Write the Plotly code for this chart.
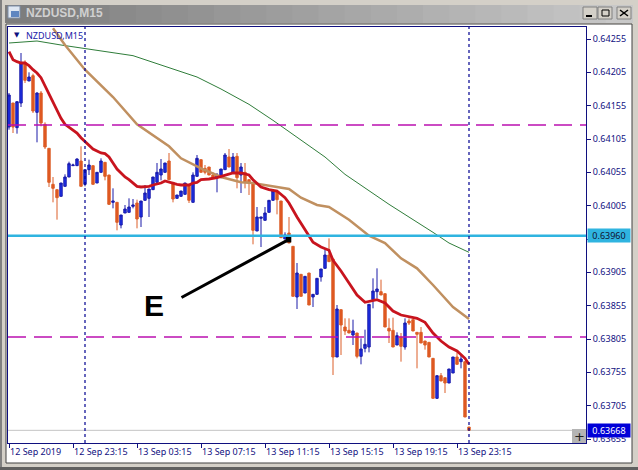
import plotly.graph_objects as go

W, H = 638, 470

# candles
opens = [0.64123, 0.64159, 0.64122, 0.64159, 0.64220, 0.64192, 0.64200, 0.64145, 0.64174, 0.64127,
         0.64091, 0.64037, 0.64029, 0.64019, 0.64034, 0.64048, 0.64065, 0.64065, 0.64072, 0.64037,
         0.64059, 0.64065, 0.64039, 0.64055, 0.64070, 0.64051, 0.64010, 0.64010, 0.63976, 0.63994,
         0.63995, 0.64004, 0.64009, 0.63988, 0.64013, 0.64016, 0.64029, 0.64040, 0.64051, 0.64055,
         0.64072, 0.64040, 0.64016, 0.64019, 0.64022, 0.64036, 0.64010, 0.64049, 0.64074, 0.64061,
         0.64063, 0.64051, 0.64047, 0.64047, 0.64059, 0.64078, 0.64055, 0.64079, 0.64051, 0.64055,
         0.64044, 0.64039, 0.63967, 0.63986, 0.63983, 0.63995, 0.64013, 0.64026, 0.64012, 0.63955,
         0.63964, 0.63944, 0.63868, 0.63902, 0.63874, 0.63904, 0.63868, 0.63872, 0.63898, 0.63911,
         0.63931, 0.63925, 0.63778, 0.63849, 0.63823, 0.63818, 0.63811, 0.63814, 0.63779, 0.63791,
         0.63793, 0.63864, 0.63876, 0.63876, 0.63873, 0.63821, 0.63818, 0.63796, 0.63808, 0.63793,
         0.63832, 0.63834, 0.63815, 0.63815, 0.63802, 0.63800, 0.63776, 0.63716, 0.63750, 0.63747,
         0.63739, 0.63754, 0.63778, 0.63771, 0.63771, 0.63673]
highs = [0.64174, 0.64159, 0.64161, 0.64234, 0.64223, 0.64205, 0.64203, 0.64175, 0.64177, 0.64130,
         0.64091, 0.64048, 0.64029, 0.64039, 0.64052, 0.64071, 0.64068, 0.64076, 0.64094, 0.64059,
         0.64074, 0.64065, 0.64055, 0.64076, 0.64070, 0.64051, 0.64031, 0.64010, 0.63991, 0.64006,
         0.64016, 0.64015, 0.64014, 0.64012, 0.64036, 0.64030, 0.64048, 0.64069, 0.64075, 0.64069,
         0.64084, 0.64040, 0.64021, 0.64027, 0.64039, 0.64036, 0.64055, 0.64081, 0.64074, 0.64066,
         0.64063, 0.64055, 0.64054, 0.64060, 0.64084, 0.64090, 0.64084, 0.64084, 0.64069, 0.64069,
         0.64044, 0.64039, 0.64003, 0.63988, 0.64003, 0.64013, 0.64027, 0.64026, 0.64012, 0.63965,
         0.63988, 0.63944, 0.63919, 0.63902, 0.63899, 0.63904, 0.63872, 0.63896, 0.63910, 0.63939,
         0.63956, 0.63925, 0.63856, 0.63849, 0.63836, 0.63836, 0.63834, 0.63814, 0.63806, 0.63819,
         0.63857, 0.63896, 0.63911, 0.63894, 0.63873, 0.63836, 0.63837, 0.63815, 0.63814, 0.63836,
         0.63836, 0.63834, 0.63815, 0.63823, 0.63802, 0.63800, 0.63776, 0.63750, 0.63754, 0.63747,
         0.63760, 0.63778, 0.63785, 0.63781, 0.63771, 0.63673]
lows = [0.64119, 0.64114, 0.64113, 0.64153, 0.64189, 0.64192, 0.64144, 0.64100, 0.64124, 0.64090,
        0.64033, 0.64010, 0.63984, 0.64019, 0.64034, 0.64048, 0.64065, 0.64065, 0.64034, 0.64034,
        0.64051, 0.64037, 0.64039, 0.64055, 0.64043, 0.64006, 0.64001, 0.63968, 0.63971, 0.63994,
        0.63995, 0.64001, 0.63971, 0.63973, 0.64013, 0.63988, 0.64029, 0.64040, 0.64043, 0.64055,
        0.64044, 0.64010, 0.64016, 0.64019, 0.64022, 0.64009, 0.64010, 0.64049, 0.64055, 0.64052,
        0.64051, 0.64047, 0.64025, 0.64047, 0.64059, 0.64063, 0.64055, 0.64031, 0.64024, 0.64031,
        0.64021, 0.63947, 0.63967, 0.63943, 0.63983, 0.63995, 0.64013, 0.63992, 0.63957, 0.63955,
        0.63949, 0.63869, 0.63850, 0.63869, 0.63874, 0.63856, 0.63853, 0.63872, 0.63891, 0.63911,
        0.63921, 0.63751, 0.63778, 0.63781, 0.63811, 0.63814, 0.63796, 0.63776, 0.63767, 0.63785,
        0.63785, 0.63851, 0.63866, 0.63871, 0.63823, 0.63799, 0.63793, 0.63796, 0.63771, 0.63789,
        0.63826, 0.63817, 0.63761, 0.63799, 0.63789, 0.63778, 0.63716, 0.63715, 0.63742, 0.63724,
        0.63739, 0.63754, 0.63767, 0.63761, 0.63688, 0.63668]
closes = [0.64171, 0.64123, 0.64161, 0.64219, 0.64193, 0.64198, 0.64147, 0.64174, 0.64129, 0.64093,
          0.64040, 0.64031, 0.64017, 0.64039, 0.64048, 0.64068, 0.64066, 0.64075, 0.64034, 0.64059,
          0.64066, 0.64037, 0.64055, 0.64072, 0.64049, 0.64007, 0.64012, 0.63980, 0.63991, 0.64000,
          0.64003, 0.64006, 0.63985, 0.64012, 0.64024, 0.64030, 0.64048, 0.64055, 0.64060, 0.64069,
          0.64044, 0.64015, 0.64021, 0.64027, 0.64039, 0.64013, 0.64051, 0.64076, 0.64055, 0.64055,
          0.64051, 0.64047, 0.64051, 0.64060, 0.64081, 0.64063, 0.64078, 0.64047, 0.64063, 0.64040,
          0.64039, 0.63968, 0.63988, 0.63988, 0.63994, 0.64013, 0.64027, 0.64014, 0.63957, 0.63961,
          0.63949, 0.63869, 0.63904, 0.63869, 0.63899, 0.63856, 0.63872, 0.63896, 0.63910, 0.63931,
          0.63921, 0.63778, 0.63850, 0.63826, 0.63817, 0.63814, 0.63817, 0.63779, 0.63790, 0.63797,
          0.63857, 0.63877, 0.63880, 0.63871, 0.63823, 0.63817, 0.63793, 0.63810, 0.63794, 0.63829,
          0.63829, 0.63817, 0.63812, 0.63799, 0.63796, 0.63778, 0.63716, 0.63750, 0.63742, 0.63739,
          0.63760, 0.63778, 0.63767, 0.63775, 0.63688, 0.63668]

# moving averages
red_x = list(range(51)) + [52, 54, 56, 58, 60, 61, 63, 65, 67, 69, 70, 72, 74, 76, 78, 80, 81, 83, 85, 87,
                           89, 92, 94, 96, 98, 102, 104, 106, 108, 110, 112, 114, 115]
red_y = [0.64236, 0.64224, 0.64221, 0.64219, 0.64219, 0.64215, 0.64209, 0.64204, 0.64197, 0.64185,
         0.64174, 0.64160, 0.64148, 0.64136, 0.64127, 0.64123, 0.64119, 0.64114, 0.64107, 0.64101,
         0.64096, 0.64090, 0.64087, 0.64084, 0.64083, 0.64078, 0.64069, 0.64060, 0.64054, 0.64048,
         0.64044, 0.64039, 0.64034, 0.64033, 0.64033, 0.64034, 0.64036, 0.64037, 0.64039, 0.64042,
         0.64040, 0.64039, 0.64037, 0.64036, 0.64036, 0.64036, 0.64039, 0.64040, 0.64044, 0.64044,
         0.64045, 0.64047, 0.64051, 0.64054, 0.64054, 0.64051, 0.64044, 0.64033, 0.64029, 0.64027,
         0.64017, 0.64009, 0.63988, 0.63970, 0.63950, 0.63943, 0.63938, 0.63923, 0.63907, 0.63889,
         0.63871, 0.63860, 0.63864, 0.63859, 0.63847, 0.63841, 0.63836, 0.63830, 0.63814, 0.63802,
         0.63793, 0.63787, 0.63776, 0.63767]
tan_x = [11, 14, 19, 26, 32, 38, 40, 43, 48, 53, 58, 61, 64, 70, 73, 77, 80, 85, 90, 94, 98, 102, 106, 111, 115]
tan_y = [0.64271, 0.64246, 0.64209, 0.64168, 0.64127, 0.64102, 0.64094, 0.64076, 0.64061, 0.64048,
         0.64040, 0.64039, 0.64036, 0.64030, 0.64017, 0.64006, 0.64003, 0.63984, 0.63960, 0.63949,
         0.63926, 0.63911, 0.63886, 0.63853, 0.63835]
green_x = [0, 7, 13, 26, 31, 38, 47, 53, 60, 66, 79, 84, 90, 95, 106, 110, 115]
green_y = [0.64249, 0.64252, 0.64246, 0.64235, 0.64230, 0.64216, 0.64198, 0.64180, 0.64157, 0.64133,
           0.64078, 0.64052, 0.64028, 0.64007, 0.63965, 0.63949, 0.63935]

tick_idx = [0, 16, 32, 48, 64, 80, 96, 112]
tick_labels = ["12 Sep 2019", "12 Sep 23:15", "13 Sep 03:15", "13 Sep 07:15",
               "13 Sep 11:15", "13 Sep 15:15", "13 Sep 19:15", "13 Sep 23:15"]
price_ticks = [0.64255, 0.64205, 0.64155, 0.64105, 0.64055, 0.64005, 0.63955,
               0.63905, 0.63855, 0.63805, 0.63755, 0.63705, 0.63655]
magenta_levels = [0.64126, 0.63808]
cyan_level = 0.63960
last_price = 0.63668
vlines = [19, 115]

NAVY = "#10107f"
TEXT = "Noto Sans"


def px(x):
    return x / W


def py(y):
    return 1 - y / H


def box(x0, y0, x1, y1, fill, line=None, layer="below"):
    return dict(type="rect", xref="paper", yref="paper", x0=px(x0), x1=px(x1), y0=py(y0), y1=py(y1),
                fillcolor=fill, line=dict(color=line or fill, width=1 if line else 0), layer=layer)


def seg(x0, y0, x1, y1, color, width=1):
    return dict(type="line", xref="paper", yref="paper", x0=px(x0), x1=px(x1), y0=py(y0), y1=py(y1),
                line=dict(color=color, width=width), layer="above")


fig = go.Figure()
fig.add_trace(go.Candlestick(x=list(range(len(opens))), open=opens, high=highs, low=lows, close=closes,
                             increasing=dict(line=dict(color="#1a1aa8", width=1), fillcolor="#1b2fe8"),
                             decreasing=dict(line=dict(color="#dc5f28", width=1), fillcolor="#e0561f"),
                             whiskerwidth=0, hoverinfo="skip", showlegend=False))
fig.add_trace(go.Scatter(x=green_x, y=green_y, mode="lines", line=dict(color="#2f7d3a", width=1),
                         hoverinfo="skip", showlegend=False))
fig.add_trace(go.Scatter(x=tan_x, y=tan_y, mode="lines", line=dict(color="#c09060", width=2.5),
                         hoverinfo="skip", showlegend=False))
fig.add_trace(go.Scatter(x=red_x, y=red_y, mode="lines", line=dict(color="#c8141e", width=2.8),
                         hoverinfo="skip", showlegend=False))

# window chrome
shapes = [box(0, 0, W, H, "#d4d0c8"), box(0, 0, 2, H, "#808080"), box(0, 467, W, H, "#606060"),
          box(6, 24, 632, 463, "#ffffff", "#404040")]
steps = 24
for i in range(steps):
    v = 125 + int(75 * i / (steps - 1))
    shapes.append(box(5 + i * 627 / steps, 5, 5 + (i + 1) * 627 / steps + 1, 23, f"rgb({v},{v},{v})"))
shapes += [box(8, 6, 20, 18, "#dfe7f2", "#7f8fa8", "above"), box(11, 11, 19, 17, "#5f86c0", None, "above")]
for x0 in [583, 598, 617]:
    shapes.append(box(x0, 7, x0 + 14, 19, "#d4d0c8", "#808080", "above"))
shapes += [seg(586, 16, 592, 16, "#000000", 2), box(602, 10, 609, 16, "#d4d0c8", "#000000", "above"),
           seg(620, 10, 628, 16, "#000000", 1.5), seg(628, 10, 620, 16, "#000000", 1.5)]

# price levels and period separators
for lvl in magenta_levels:
    shapes.append(dict(type="line", xref="x", yref="y", x0=-0.25, x1=144.25, y0=lvl, y1=lvl,
                       line=dict(color="#bb10b0", width=1.3, dash="18px,8px"), layer="above"))
shapes.append(dict(type="line", xref="x", yref="y", x0=-0.25, x1=144.25, y0=last_price, y1=last_price,
                   line=dict(color="#c4c4c4", width=1), layer="below"))
shapes.append(dict(type="line", xref="x", yref="y", x0=-0.25, x1=144.25, y0=cyan_level, y1=cyan_level,
                   line=dict(color="#2fb4e0", width=2.5), layer="above"))
for v in vlines:
    shapes.append(dict(type="line", xref="x", yref="paper", x0=v, x1=v, y0=py(443), y1=py(27),
                       line=dict(color="#000090", width=1.2, dash="3px,3px"), layer="above"))
shapes.append(box(572, 429, 586, 443, "#b4b4b4", None, "above"))

annotations = [
    dict(xref="paper", yref="paper", x=px(24), y=py(13), text="<b>NZDUSD,M15</b>", showarrow=False,
         xanchor="left", yanchor="middle", font=dict(family="Liberation Sans", size=12, color="#d0d0d0")),
    dict(xref="paper", yref="paper", x=px(12), y=py(35), text="▼", showarrow=False, xanchor="left",
         yanchor="middle", font=dict(family="DejaVu Sans", size=7, color="#10107f")),
    dict(xref="paper", yref="paper", x=px(24), y=py(35), text="NZDUSD,M15", showarrow=False, xanchor="left",
         yanchor="middle", font=dict(family=TEXT, size=9, color="#2020a8")),
    dict(xref="paper", yref="paper", x=px(579), y=py(436), text="+", showarrow=False, xanchor="center",
         yanchor="middle", font=dict(family="DejaVu Sans", size=13, color="#202020")),
    dict(xref="paper", y=cyan_level, yref="y", x=px(587), text="0.63960", showarrow=False, xanchor="left",
         yanchor="middle", bgcolor="#2fb4e0", borderpad=0, width=42,
         font=dict(family=TEXT, size=9, color="#101030")),
    dict(xref="paper", y=last_price, yref="y", x=px(587), text="0.63668", showarrow=False, xanchor="left",
         yanchor="middle", bgcolor="#0000d8", borderpad=0, width=42,
         font=dict(family=TEXT, size=9, color="#ffffff")),
    dict(xref="x", yref="y", x=69.9, y=0.63954, ax=42.75, ay=0.63866, axref="x", ayref="y", text="",
         showarrow=True, arrowcolor="#000000", arrowwidth=3, arrowhead=7, arrowsize=0.45),
    dict(xref="x", yref="y", x=36.25, y=0.63855, text="<b>E</b>", showarrow=False, xanchor="center",
         yanchor="middle", font=dict(family="Liberation Sans", size=30, color="#000000")),
]

fig.update_layout(
    width=W, height=H, margin=dict(l=0, r=0, t=0, b=0, pad=0),
    paper_bgcolor="#d4d0c8", plot_bgcolor="rgba(0,0,0,0)", showlegend=False, hovermode=False,
    boxgap=0.15, shapes=shapes, annotations=annotations,
    xaxis=dict(domain=[px(8), px(586)], range=[-0.25, 144.25], type="linear", rangeslider=dict(visible=False),
               tickmode="array", tickvals=tick_idx, ticktext=tick_labels, ticks="outside", ticklen=4,
               tickcolor=NAVY, tickangle=0, ticklabelposition="outside right", showgrid=False, zeroline=False,
               showline=True, linecolor=NAVY, linewidth=1, mirror=True, fixedrange=True, automargin=False,
               tickfont=dict(family=TEXT, size=9, color=NAVY)),
    yaxis=dict(domain=[py(443), py(27)], range=[0.63649, 0.64273], side="right", tickmode="array",
               tickvals=price_ticks, tickformat=".5f", ticks="outside", ticklen=4, tickcolor=NAVY,
               showgrid=False, zeroline=False, showline=True, linecolor=NAVY, linewidth=1, mirror=True,
               fixedrange=True, automargin=False, tickfont=dict(family=TEXT, size=9, color=NAVY)),
)

fig.write_html("out.html", config=dict(displayModeBar=False),
               post_script="document.body.style.margin='0';document.body.style.overflow='hidden';")
